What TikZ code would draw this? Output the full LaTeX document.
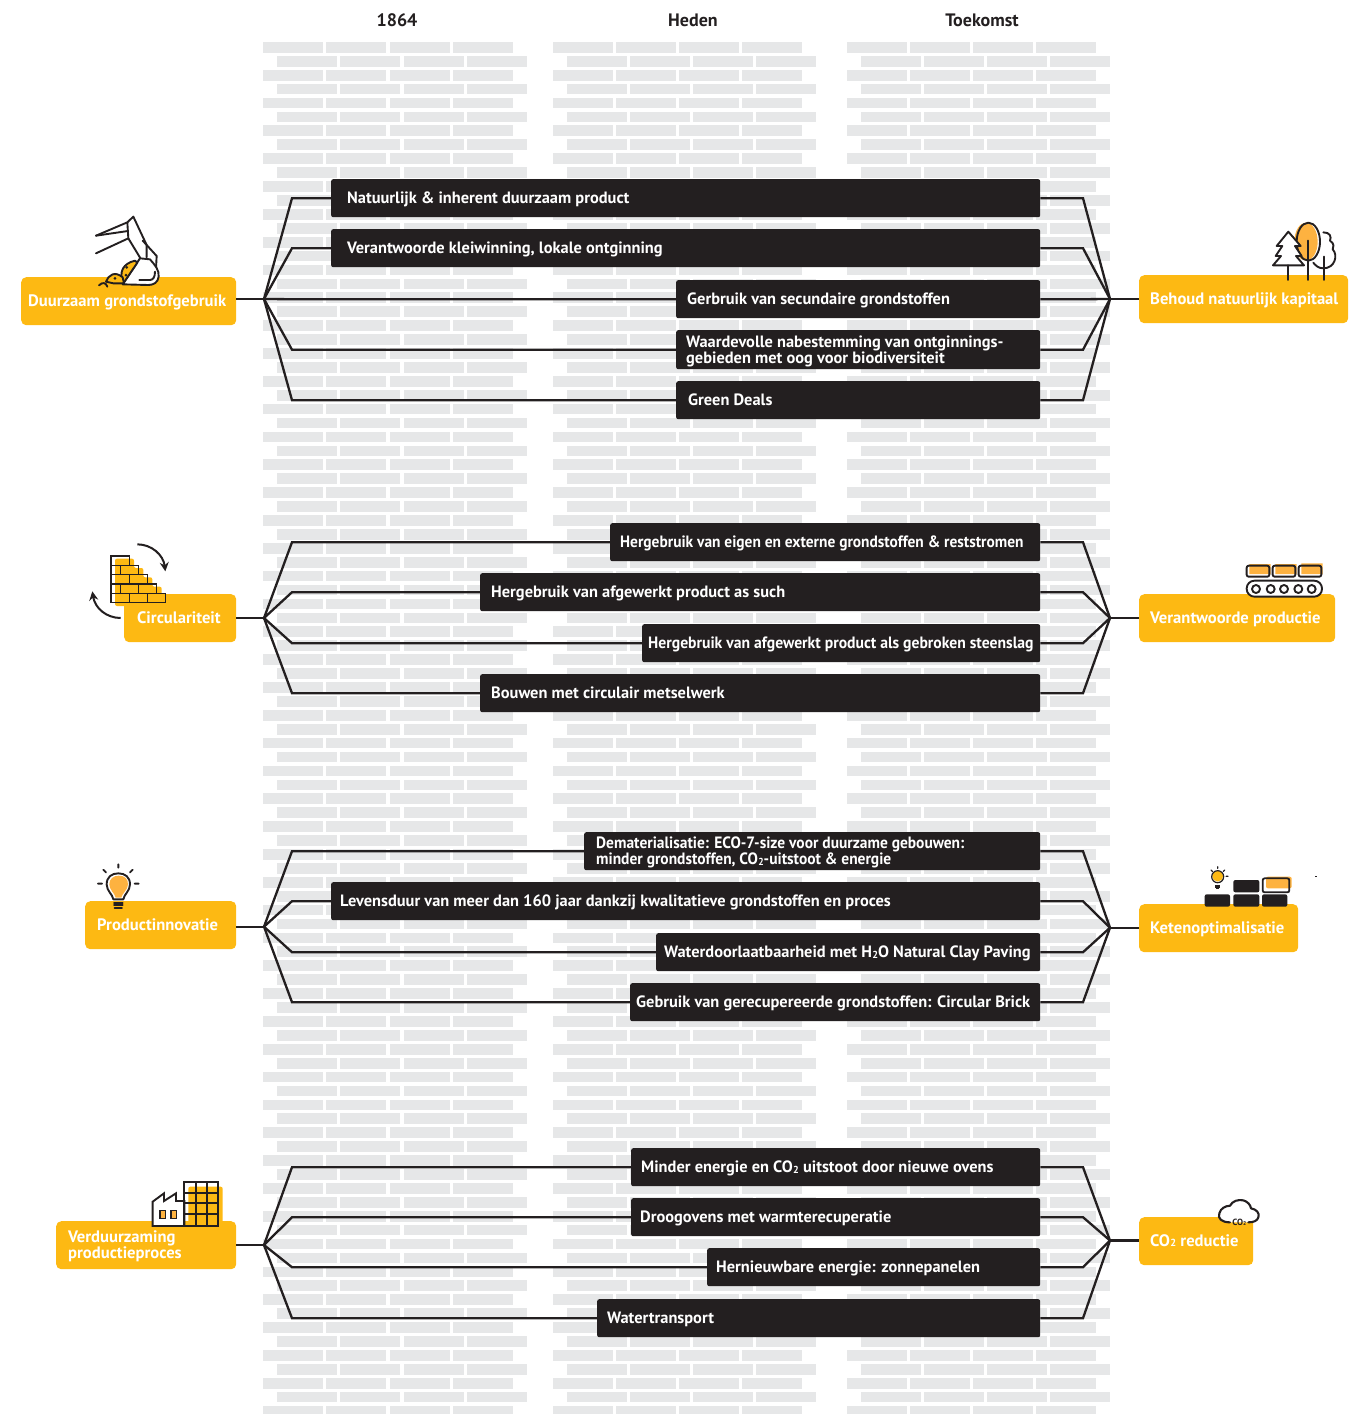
\documentclass[tikz,border=0pt]{standalone}
\usepackage{graphicx}
\usepackage{fontspec}
\setmainfont{PT Sans}
\usetikzlibrary{arrows.meta}
\definecolor{ink}{HTML}{231F20}
\definecolor{brick}{HTML}{E6E7E8}
\definecolor{gold}{HTML}{FDB913}
\definecolor{peach}{HTML}{FDB240}
\newcommand\two{\kern.02em\raisebox{-.04em}{\scalebox{.62}{2}}}
\tikzset{
  barbox/.style={fill=ink,rounded corners=2pt,inner sep=0pt,anchor=north west},
  goalbox/.style={fill=gold,rounded corners=5pt,inner sep=0pt,anchor=north west},
  bartext/.style={text=white,inner sep=0pt,anchor=west,align=left,yshift=-1.8pt,font=\fontsize{16.4}{16}\selectfont\bfseries},
  goaltext/.style={text=white,inner sep=0pt,anchor=west,align=left,yshift=-1pt,font=\fontsize{16.6}{15.5}\selectfont\bfseries},
  headtext/.style={text=ink,inner sep=0pt,font=\fontsize{18}{18}\selectfont\bfseries},
  conn/.style={draw=ink,line width=2.3pt,line join=miter},
  icon/.style={draw=ink,line width=1.9pt,line join=round,line cap=round},
  zoomcs/.style={x=0.33333pt,y=-0.33333pt},
}
% style, name, x0, x1, y0, y1, text x, text
\newcommand\tbox[8]{%
  \pgfmathsetmacro\bw{#4-#3}\pgfmathsetmacro\bh{#6-#5}\pgfmathsetmacro\by{(#5+#6)/2}%
  \node[#1box,minimum width=\bw pt,minimum height=\bh pt] (#2) at (#3,#5) {};
  \node[#1text] (#2t) at (#7,\by) {\vphantom{Ag}#8};
}
\begin{document}
\begin{tikzpicture}[x=1pt,y=-1pt]
\useasboundingbox (0,0) rectangle (1354,1414);
% brick wall
\begin{scope}
\clip (0,0) rectangle (1354,1414);
\foreach \cx in {263.4,552.7,847}{
  \foreach \k in {0,...,98}{
    \pgfmathsetmacro\yy{42+13.915*\k}
    \pgfmathsetmacro\off{mod(\k,2)*14}
    \foreach \i in {0,1,2,3}{
      \pgfmathsetmacro\xx{\cx+\off+63.05*\i}
      \fill[brick] (\xx,\yy) rectangle ++(60,10.7);
    }
  }
}
\end{scope}
% headers
\node[headtext] (h1) at (397,20) {1864};
\node[headtext] (h2) at (693,20) {Heden};
\node[headtext] (h3) at (982,20) {Toekomst};
% group 1
\tbox{bar}{a1}{331}{1040}{179}{217}{347}{Natuurlijk \& inherent duurzaam product}
\tbox{bar}{a2}{331}{1040}{229}{267}{347}{Verantwoorde kleiwinning, lokale ontginning}
\tbox{bar}{a3}{676}{1040}{280}{318}{687}{Gerbruik van secundaire grondstoffen}
\tbox{bar}{a4}{676}{1040}{330}{369}{686}{Waardevolle nabestemming van ontginnings-\\gebieden met oog voor biodiversiteit}
\tbox{bar}{a5}{676}{1040}{381}{419}{688}{Green Deals}
% group 2
\tbox{bar}{b1}{610}{1040}{523}{561}{620}{\scalebox{.94}[1]{Hergebruik van eigen en externe grondstoffen \& reststromen}}
\tbox{bar}{b2}{480}{1040}{573}{611}{491}{Hergebruik van afgewerkt product as such}
\tbox{bar}{b3}{642}{1040}{624}{662}{648}{\scalebox{.955}[1]{Hergebruik van afgewerkt product als gebroken steenslag}}
\tbox{bar}{b4}{480}{1040}{674}{712}{491}{Bouwen met circulair metselwerk}
% group 3
\tbox{bar}{c1}{584}{1040}{832}{870}{596}{\scalebox{.943}[1]{Dematerialisatie: ECO-7-size voor duurzame gebouwen:}\\\scalebox{.943}[1]{minder grondstoffen, CO\two-uitstoot \& energie}}
\tbox{bar}{c2}{331}{1040}{882}{920}{340}{Levensduur van meer dan 160 jaar dankzij kwalitatieve grondstoffen en proces}
\tbox{bar}{c3}{656}{1040}{933}{971}{664}{Waterdoorlaatbaarheid met H\two O Natural Clay Paving}
\tbox{bar}{c4}{630}{1040}{983}{1021}{636}{Gebruik van gerecupereerde grondstoffen: Circular Brick}
% group 4
\tbox{bar}{d1}{631}{1040}{1148}{1186}{641}{Minder energie en CO\two{} uitstoot door nieuwe ovens}
\tbox{bar}{d2}{631}{1040}{1198}{1236}{640}{Droogovens met warmterecuperatie}
\tbox{bar}{d3}{707}{1040}{1248}{1286}{716}{Hernieuwbare energie: zonnepanelen}
\tbox{bar}{d4}{597}{1040}{1299}{1337}{607}{Watertransport}
% goal labels
\tbox{goal}{la}{21}{236}{277}{325}{28}{Duurzaam grondstofgebruik}
\tbox{goal}{lb}{124}{236}{594}{642}{137}{Circulariteit}
\tbox{goal}{lc}{85}{236}{901}{949}{97}{Productinnovatie}
\tbox{goal}{ld}{56}{236}{1221}{1269}{68}{Verduurzaming\\productieproces}
\tbox{goal}{ra}{1139}{1348}{275}{323}{1150}{Behoud natuurlijk kapitaal}
\tbox{goal}{rb}{1139}{1335}{594}{642}{1150}{Verantwoorde productie}
\tbox{goal}{rc}{1139}{1298}{904}{952}{1150}{Ketenoptimalisatie}
\tbox{goal}{rd}{1139}{1253}{1217}{1265}{1150}{CO\two{} reductie}
% hubs
\coordinate (hla) at (264,299);
\coordinate (hra) at (1110,299);
\coordinate (hlb) at (264,618);
\coordinate (hrb) at (1110,618);
\coordinate (hlc) at (264,926.7);
\coordinate (hrc) at (1110,927.7);
\coordinate (hld) at (264,1245);
\coordinate (hrd) at (1110,1240.5);
% connectors
\foreach \g/\n in {a/1,a/2,a/3,a/4,a/5,b/1,b/2,b/3,b/4,c/1,c/2,c/3,c/4,d/1,d/2,d/3,d/4}{
  \draw[conn] (hl\g) -- (292,0 |- \g\n.west) -- (\g\n.west);
  \draw[conn] (\g\n.east) -- (1083,0 |- \g\n.east) -- (hr\g);
}
\foreach \g in {a,b,c,d}{
  \draw[conn] (l\g.east |- hl\g) -- (hl\g);
  \draw[conn] (hr\g) -- (r\g.west |- hr\g);
}
% excavator
\begin{scope}[shift={(0,170)},zoomcs]
\draw[icon] (288,197)--(382,157)--(400,140)--(440,225)--(470,258)--(468,295);
\draw[icon] (288,197)--(384,183);
\draw[icon] (288,250)--(385,205)--(382,157);
\draw[icon] (385,205)--(422,266);
\draw[icon] (428,212)--(440,225)--(440,262);
\draw[icon,fill=white] (420,265)--(450,268) .. controls (465,285) and (478,300) .. (476,320) .. controls (474,338) and (460,345) .. (445,345) -- (368,343) -- cycle;
\draw[icon] (418,330)--(450,330) .. controls (460,330) and (465,320) .. (465,305);
\draw[icon,fill=gold] (370,340) .. controls (355,305) and (370,280) .. (405,272) -- (412,278) -- cycle;
\draw[icon,fill=gold] (318,335) .. controls (325,315) and (345,302) .. (368,322) -- (372,340) -- (340,340) -- cycle;
\draw[icon] (297,346) .. controls (308,335) and (318,338) .. (322,350);
\fill[ink] (380,292) circle (1.5pt) (378,315) circle (1.5pt) (345,325) circle (1.5pt);
\end{scope}
% trees
\begin{scope}[shift={(1030,170)},zoomcs]
\fill[peach] (828,215) ellipse (35pt*0.3333 and 57pt*0.3333);
\draw[icon] (835,215) ellipse (35pt*0.3333 and 57pt*0.3333);
\draw[icon,fill=white] (775,185)--(812,228)--(795,228)--(815,258)--(798,258)--(822,286)--(729,286)--(753,258)--(737,258)--(757,228)--(740,228)--cycle;
\draw[icon] (775,286)--(775,330);
\draw[icon] (835,212)--(835,330);
\draw[icon] (883,260)--(883,330);
\draw[icon] (880,187) .. controls (900,187) and (905,200) .. (900,212) .. controls (915,222) and (910,232) .. (908,238) .. controls (925,255) and (915,295) .. (880,295) .. controls (865,295) and (855,285) .. (850,278);
\end{scope}
% recycled bricks
\begin{scope}[shift={(60,530)},zoomcs]
\fill[gold,rounded corners=2pt] (165,86)--(222,86)--(222,114)--(250,114)--(250,142)--(277,142)--(277,170)--(305,170)--(305,198)--(330,198)--(330,228)--(165,228)--cycle;
\draw[ink,line width=1.5pt] (153,78) rectangle (208,106);
\draw[ink,line width=1.5pt] (153,106) rectangle (236,134);
\draw[ink,line width=1.5pt] (153,134) rectangle (263,162);
\draw[ink,line width=1.5pt] (153,162) rectangle (290,190);
\draw[ink,line width=1.5pt] (153,190) rectangle (317,217);
\draw[ink,line width=1.5pt] (181,106)--(181,134) (208,134)--(208,162) (181,162)--(181,190) (236,162)--(236,190) (208,190)--(208,217) (263,190)--(263,217);
\draw[ink,line width=2pt,-{Stealth[length=9pt,width=9pt]}] (232,43) .. controls (275,43) and (310,75) .. (316,124);
\draw[ink,line width=2pt,-{Stealth[length=9pt,width=9pt]}] (182,264) .. controls (140,264) and (105,235) .. (97,184);
\end{scope}
% conveyor
\begin{scope}[shift={(1130,550)},zoomcs]
\fill[peach] (358,42) rectangle (422,72) (436,42) rectangle (500,72) (514,40) rectangle (578,72);
\draw[icon,rounded corners=2pt] (350,47) rectangle (418,80);
\draw[icon,rounded corners=2pt] (428,47) rectangle (496,80);
\draw[icon,rounded corners=2pt] (506,47) rectangle (574,80);
\draw[icon,fill=white,rounded corners=7.8pt] (350,92) rectangle (576,140);
\foreach \q in {378,422,462,505,545}{\draw[icon] (\q,117) circle (4pt);}
\end{scope}
% bulb
\begin{scope}[shift={(70,855)},zoomcs]
\draw[icon,fill=white] (130,133) .. controls (128,118) and (110,108) .. (110,88) .. controls (110,66) and (125,55) .. (145,55) .. controls (165,55) and (180,66) .. (180,88) .. controls (180,108) and (162,118) .. (160,133) -- cycle;
\fill[peach] (137,128) .. controls (135,115) and (118,105) .. (118,88) .. controls (118,72) and (130,62) .. (146,62) .. controls (165,62) and (174,72) .. (174,88) .. controls (174,105) and (156,115) .. (154,128) -- cycle;
\draw[icon] (132,143)--(158,143) (132,151)--(158,151) (134,160)--(156,160);
\draw[icon] (145,28)--(145,38) (100,44)--(108,52) (188,44)--(180,52) (84,86)--(96,86) (194,86)--(206,86);
\end{scope}
% chain
\begin{scope}[shift={(1130,860)},zoomcs]
\fill[gold] (263,48) circle (5.5pt);
\draw[ink,line width=1.2pt] (263,50) circle (6pt);
\draw[ink,line width=1.2pt] (255,76)--(271,76) (256,81)--(270,81) (258,86)--(268,86);
\draw[ink,line width=1.2pt,line cap=round] (263,20)--(263,25) (243,30)--(247,34) (284,30)--(280,34) (288,49)--(294,49);
\fill[ink,rounded corners=2pt] (224,103) rectangle (300,140) (310,103) rectangle (388,140) (396,103) rectangle (472,140) (310,60) rectangle (388,97);
\fill[peach,rounded corners=2pt] (408,50) rectangle (485,85);
\draw[ink,line width=1.8pt,rounded corners=2pt] (398,55) rectangle (478,97);
\draw[ink,line width=0.8pt] (555,48)--(561,48);
\end{scope}
% factory
\begin{scope}[shift={(40,1170)},zoomcs]
\fill[gold,rounded corners=2pt] (445,50) rectangle (548,170);
\draw[icon,fill=white,line join=miter] (338,168)--(338,95)--(372,70)--(372,93)--(408,70)--(408,93)--(433,93)--(433,168)--cycle;
\draw[ink,line width=1.7pt] (433,35) rectangle (535,168);
\draw[ink,line width=1.7pt] (467,35)--(467,168) (500,35)--(500,168) (433,68)--(535,68) (433,100)--(535,100) (433,133)--(535,133);
\draw[ink,line width=1.2pt,fill=peach] (360,122) rectangle (376,145) (393,122) rectangle (410,145);
\end{scope}
% cloud
\begin{scope}[shift={(1130,1190)},zoomcs]
\draw[icon,line width=2.1pt,fill=white] (300,97) .. controls (275,97) and (262,85) .. (268,70) .. controls (272,55) and (285,48) .. (300,47) .. controls (308,32) and (325,28) .. (340,31) .. controls (352,34) and (362,45) .. (363,55) .. controls (380,58) and (390,70) .. (385,82) .. controls (382,92) and (372,97) .. (355,97);
\node[text=ink,inner sep=0pt,font=\fontsize{9}{9}\selectfont\bfseries] (co) at (328,96) {CO\two};
\end{scope}
\end{tikzpicture}
\end{document}
